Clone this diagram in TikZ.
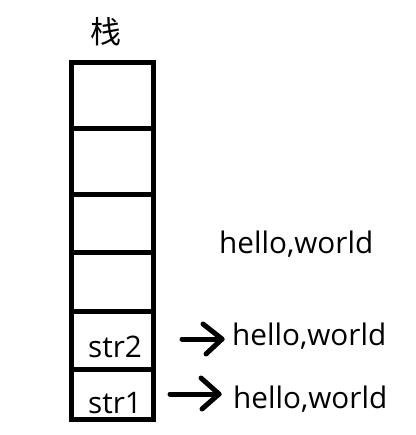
\documentclass[tikz,border=0pt]{standalone}
\usepackage{fontspec}
\setmainfont{Open Sans}
\newfontfamily\cjk{Noto Sans CJK SC}
\usetikzlibrary{calc}
\tikzset{
  cell/.style={draw=black, line width=5pt, inner sep=0pt, minimum width=82pt},
  lbl/.style={anchor=base west, inner sep=0pt, font=\fontsize{29.7}{32}\selectfont},
  arr/.style={line width=5pt, line cap=round, line join=round}
}
\begin{document}
\begin{tikzpicture}[x=1pt,y=-1pt]
\useasboundingbox[fill=white] (0,0) rectangle (415,435);
\node[inner sep=0pt, font=\cjk\fontsize{31}{33}\selectfont] (title) at (106,32) {栈};
\node[cell, minimum height=65.5pt] (c6) at (112.5,95.75) {};
\node[cell, minimum height=66pt] (c5) at (112.5,161.5) {};
\node[cell, minimum height=58pt] (c4) at (112.5,223.5) {};
\node[cell, minimum height=59pt] (c3) at (112.5,282) {};
\node[cell, minimum height=57.5pt] (c2) at (112.5,340.25) {};
\node[cell, minimum height=50.5pt] (c1) at (112.5,394.25) {};
\node[lbl] (s2) at (88,357) {str2};
\node[lbl] (s1) at (88,413) {str1};
\node[lbl] (h0) at (219,253) {hello,world};
\node[lbl] (h2) at (232,345) {hello,world};
\node[lbl] (h1) at (233,408) {hello,world};
\coordinate (a2s) at (182,339);
\coordinate (a2t) at (222,339);
\coordinate (a1s) at (170,394);
\coordinate (a1t) at (219,394);
\draw[arr] (a2s) -- (a2t);
\draw[arr] ($(a2t)+(-19,-15)$) -- (a2t) -- ($(a2t)+(-16,15)$);
\draw[arr] (a1s) -- (a1t);
\draw[arr] ($(a1t)+(-18,-16)$) -- (a1t) -- ($(a1t)+(-17,15)$);
\end{tikzpicture}
\end{document}
